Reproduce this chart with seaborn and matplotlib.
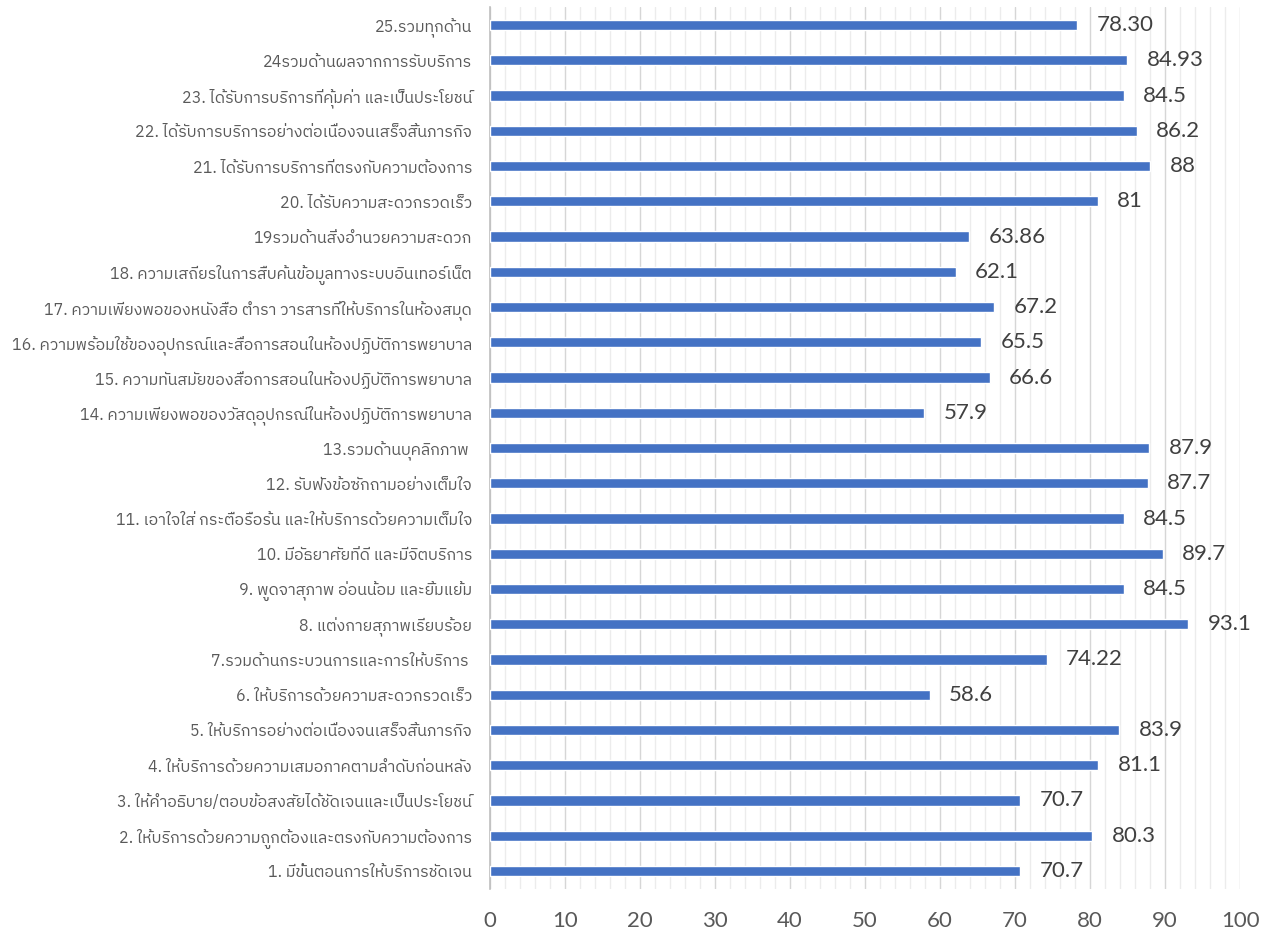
import matplotlib
matplotlib.use("Agg")
import matplotlib.pyplot as plt
import seaborn as sns
import pandas as pd
import numpy as np
from matplotlib import font_manager as fm
from matplotlib.ft2font import FT2Font
from matplotlib.ticker import MultipleLocator, FixedLocator

# ---------------- data ----------------
categories = [
    "1. มีขั้นตอนการให้บริการชัดเจน",
    "2. ให้บริการด้วยความถูกต้องและตรงกับความต้องการ",
    "3. ให้คำอธิบาย/ตอบข้อสงสัยได้ชัดเจนและเป็นประโยชน์",
    "4. ให้บริการด้วยความเสมอภาคตามลำดับก่อนหลัง",
    "5. ให้บริการอย่างต่อเนื่องจนเสร็จสิ้นภารกิจ",
    "6. ให้บริการด้วยความสะดวกรวดเร็ว",
    "7.รวมด้านกระบวนการและการให้บริการ ",
    "8. แต่งกายสุภาพเรียบร้อย",
    "9. พูดจาสุภาพ อ่อนน้อม และยิ้มแย้ม",
    "10. มีอัธยาศัยที่ดี และมีจิตบริการ",
    "11. เอาใจใส่ กระตือรือร้น และให้บริการด้วยความเต็มใจ",
    "12. รับฟังข้อซักถามอย่างเต็มใจ",
    "13.รวมด้านบุคลิกภาพ ",
    "14. ความเพียงพอของวัสดุอุปกรณ์ในห้องปฏิบัติการพยาบาล",
    "15. ความทันสมัยของสื่อการสอนในห้องปฏิบัติการพยาบาล",
    "16. ความพร้อมใช้ของอุปกรณ์และสื่อการสอนในห้องปฏิบัติการพยาบาล",
    "17. ความเพียงพอของหนังสือ ตำรา วารสารที่ให้บริการในห้องสมุด",
    "18. ความเสถียรในการสืบค้นข้อมูลทางระบบอินเทอร์เน็ต",
    "19รวมด้านสิ่งอำนวยความสะดวก",
    "20. ได้รับความสะดวกรวดเร็ว",
    "21. ได้รับการบริการที่ตรงกับความต้องการ",
    "22. ได้รับการบริการอย่างต่อเนื่องจนเสร็จสิ้นภารกิจ",
    "23. ได้รับการบริการที่คุ้มค่า และเป็นประโยชน์",
    "24รวมด้านผลจากการรับบริการ",
    "25.รวมทุกด้าน",
]
values = [70.7, 80.3, 70.7, 81.1, 83.9, 58.6, 74.22, 93.1, 84.5, 89.7,
          84.5, 87.7, 87.9, 57.9, 66.6, 65.5, 67.2, 62.1, 63.86, 81.0,
          88.0, 86.2, 84.5, 84.93, 78.30]
value_labels = ["70.7", "80.3", "70.7", "81.1", "83.9", "58.6", "74.22", "93.1",
                "84.5", "89.7", "84.5", "87.7", "87.9", "57.9", "66.6", "65.5",
                "67.2", "62.1", "63.86", "81", "88", "86.2", "84.5", "84.93", "78.30"]
x_ticks = [0, 10, 20, 30, 40, 50, 60, 70, 80, 90, 100]

# ---------------- fonts ----------------
def find_thai_font():
    cands = []
    for f in fm.fontManager.ttflist:
        try:
            cmap = FT2Font(f.fname).get_charmap()
        except Exception:
            continue
        if 0x0E01 in cmap and 0x0E49 in cmap and 0x0E35 in cmap:
            score = 0
            n = f.name.lower()
            if "thai" in n:
                score -= 10
            if "looped" in n:
                score += 5
            if f.weight not in (400, "normal", "regular"):
                score += 2
            if f.style != "normal":
                score += 3
            cands.append((score, f.name))
    cands.sort()
    return cands[0][1] if cands else None

thai = find_thai_font()
sns.set_theme(style="white")
num_font = "Lato"
label_family = [thai, "DejaVu Sans"] if thai else ["DejaVu Sans"]
plt.rcParams["font.family"] = [num_font, "DejaVu Sans"]

df = pd.DataFrame({"cat": categories, "val": values})
order = categories[::-1]

fig = plt.figure(figsize=(12.7, 9.32), dpi=100)
ax = fig.add_axes([0.3858, 0.0466, 0.5906, 0.9454])

sns.barplot(data=df, x="val", y="cat", order=order, orient="h",
            color="#4472C4", saturation=1, width=0.29, ax=ax, zorder=3)

ax.set_xlim(0, 100)
ax.set_ylim(len(order) - 0.5, -0.5)
ax.set_xlabel("")
ax.set_ylabel("")

# grid
ax.xaxis.set_major_locator(FixedLocator(x_ticks))
ax.xaxis.set_minor_locator(MultipleLocator(2))
ax.grid(axis="x", which="major", color="#D6D6D6", linewidth=1.0, zorder=0)
ax.grid(axis="x", which="minor", color="#ECECEC", linewidth=1.0, zorder=0)
ax.grid(axis="y", visible=False)
ax.set_axisbelow(True)

for s in ["top", "right", "bottom"]:
    ax.spines[s].set_visible(False)
ax.spines["left"].set_color("#BFBFBF")
ax.spines["left"].set_linewidth(1.2)

ax.tick_params(axis="x", which="both", length=0, pad=16, labelsize=16,
               labelcolor="#595959")
ax.tick_params(axis="y", which="major", length=0, pad=13)
ax.yaxis.set_minor_locator(FixedLocator(np.arange(-0.5, len(order), 1.0)))
ax.tick_params(axis="y", which="minor", length=5, color="#BFBFBF", width=1.2)

for lab in ax.get_yticklabels():
    lab.set_family(label_family)
    lab.set_fontsize(11.5)
    lab.set_color("#595959")

# value labels
lab_map = dict(zip(categories, value_labels))
for i, c in enumerate(order):
    v = values[categories.index(c)]
    ax.annotate(lab_map[c], xy=(v, i), xytext=(14, 0), textcoords="offset points",
                ha="left", va="center", fontsize=16, color="#404040",
                family=[num_font, "DejaVu Sans"])

fig.savefig("out.png", dpi=100)
